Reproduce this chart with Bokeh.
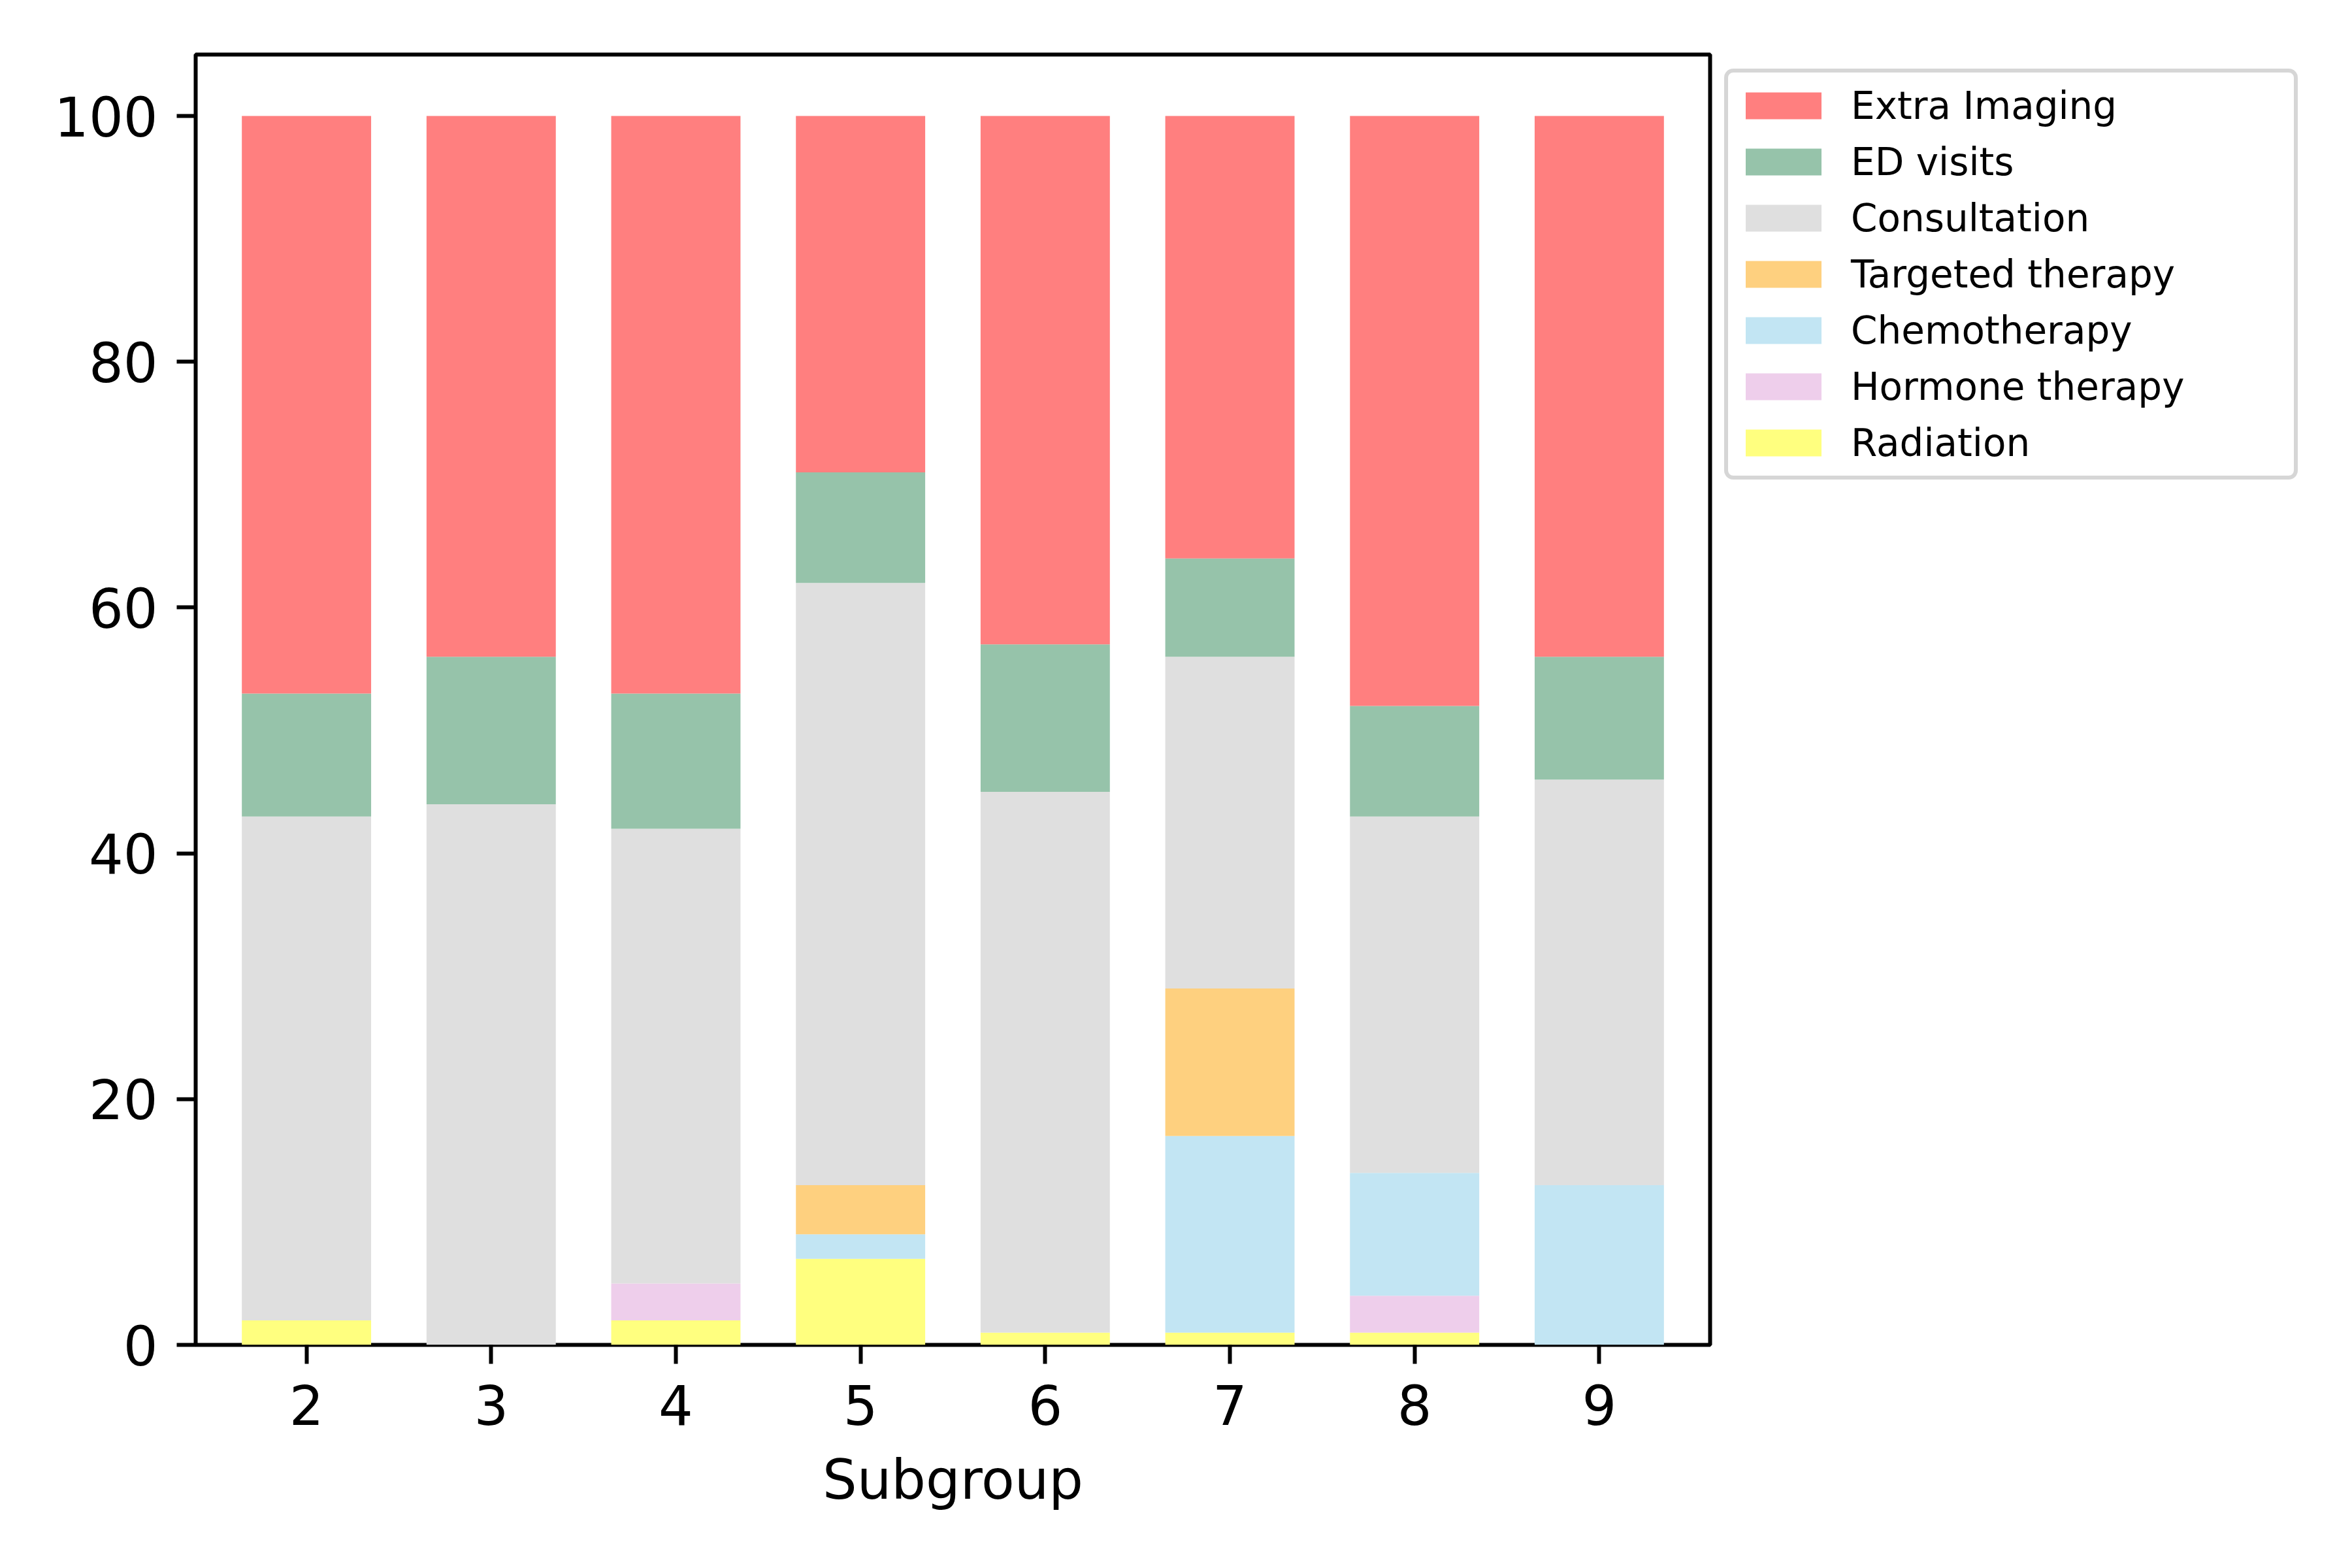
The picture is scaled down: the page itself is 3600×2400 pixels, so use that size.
from bokeh.plotting import figure
from bokeh.models import Range1d, Legend, LegendItem, FixedTicker, ColumnDataSource
from bokeh.embed import file_html
from bokeh.resources import INLINE

subgroups = [2, 3, 4, 5, 6, 7, 8, 9]
categories = ["Radiation", "Hormone therapy", "Chemotherapy", "Targeted therapy",
              "Consultation", "ED visits", "Extra Imaging"]
radiation = [2, 0, 2, 7, 1, 1, 1, 0]
hormone = [0, 0, 3, 0, 0, 0, 3, 0]
chemo = [0, 0, 0, 2, 0, 16, 10, 13]
targeted = [0, 0, 0, 4, 0, 12, 0, 0]
consultation = [41, 44, 37, 49, 44, 27, 29, 33]
ed_visits = [10, 12, 11, 9, 12, 8, 9, 10]
extra_imaging = [47, 44, 47, 29, 43, 36, 48, 44]
colors = ["#FFFF7F", "#EECEEB", "#C2E5F3", "#FED07F", "#DFDFDF", "#96C3AA", "#FF7F7F"]
y_ticks = [0, 20, 40, 60, 80, 100]

series = [radiation, hormone, chemo, targeted, consultation, ed_visits, extra_imaging]
data = {"x": subgroups}
for name, vals in zip(categories, series):
    data[name] = vals
source = ColumnDataSource(data)

FONT = "DejaVu Sans"

p = figure(frame_width=2318, frame_height=1975, output_backend="svg",
           toolbar_location=None,
           x_range=Range1d(1.4, 9.6), y_range=Range1d(0, 105),
           min_border_left=299, min_border_top=83, min_border_bottom=320,
           min_border_right=900)
p.background_fill_color = "white"
p.border_fill_color = "white"
p.grid.visible = False
p.outline_line_color = "black"
p.outline_line_width = 6

renderers = p.vbar_stack(categories, x="x", width=0.7, color=colors, source=source,
                         line_color=None)

for ax in (p.xaxis[0], p.yaxis[0]):
    ax.axis_line_color = None
    ax.major_tick_out = 29
    ax.major_tick_in = 0
    ax.major_tick_line_width = 6
    ax.minor_tick_line_color = None
    ax.major_label_text_font = FONT
    ax.major_label_text_font_size = "83px"
    ax.major_label_text_color = "black"

p.yaxis.major_label_standoff = 29
p.xaxis.major_label_standoff = 31
p.xaxis.ticker = FixedTicker(ticks=subgroups)
p.yaxis.ticker = FixedTicker(ticks=y_ticks)
p.xaxis.axis_label = "Subgroup"
p.xaxis.axis_label_text_font = FONT
p.xaxis.axis_label_text_font_size = "83px"
p.xaxis.axis_label_text_font_style = "normal"
p.xaxis.axis_label_text_color = "black"
p.xaxis.axis_label_standoff = 33

items = [LegendItem(label=c, renderers=[r]) for c, r in zip(categories, renderers)][::-1]
legend = Legend(items=items, location="top_left", orientation="vertical")
legend.margin = 22
legend.padding = 12
legend.spacing = 9
legend.glyph_width = 145
legend.glyph_height = 51
legend.label_standoff = 31
legend.label_width = 666
legend.label_height = 77
legend.label_text_font = FONT
legend.label_text_font_size = "58px"
legend.label_text_color = "black"
legend.border_line_color = "#CCCCCC"
legend.border_line_alpha = 0.8
legend.border_line_width = 6
legend.background_fill_color = "white"
legend.background_fill_alpha = 0.8
if "border_radius" in Legend.properties():
    legend.border_radius = 14
p.add_layout(legend, "right")

open("out.html", "w").write(file_html(p, INLINE))
